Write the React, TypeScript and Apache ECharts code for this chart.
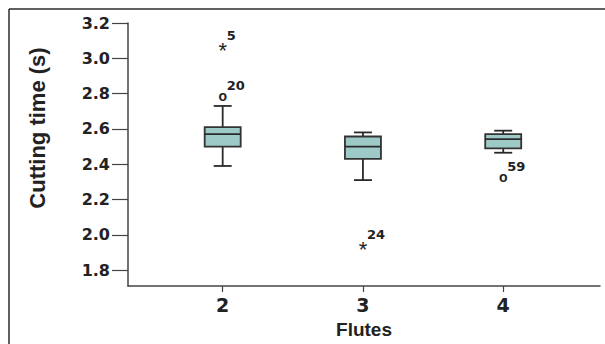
import React, { useEffect, useRef } from "react";
import * as echarts from "echarts";

const categories = [2, 3, 4];
const whiskerLow = [2.39, 2.31, 2.465];
const q1 = [2.5, 2.43, 2.49];
const median = [2.57, 2.5, 2.542];
const q3 = [2.61, 2.557, 2.57];
const whiskerHigh = [2.73, 2.58, 2.59];

const outlierFlutes = [2, 2, 3, 4];
const outlierValues = [3.07, 2.785, 1.945, 2.33];
const outlierMarks = ["*", "o", "*", "o"];
const outlierIds = ["5", "20", "24", "59"];

const yTicks = [1.8, 2.0, 2.2, 2.4, 2.6, 2.8, 3.0, 3.2];

const FONT = "Liberation Sans";
const FONT2 = "DejaVu Sans";
const DARK = "#2b2b2b";

export default function App() {
  const ref = useRef<HTMLDivElement>(null);
  useEffect(() => {
    if (!ref.current) return;
    const chart = echarts.init(ref.current, null, { renderer: "svg" });
    const boxData = categories.map((c, i) => [c, whiskerLow[i], q1[i], median[i], q3[i], whiskerHigh[i]]);
    const outData = outlierFlutes.map((f, i) => [f, outlierValues[i], i]);
    chart.setOption({
      animation: false,
      backgroundColor: "#ffffff",
      graphic: [
        { type: "line", shape: { x1: 9, y1: 9, x2: 605, y2: 9 }, style: { stroke: DARK, lineWidth: 1.5 } },
        { type: "line", shape: { x1: 9, y1: 9, x2: 9, y2: 344 }, style: { stroke: DARK, lineWidth: 1.5 } },
        {
          type: "text",
          x: 37,
          y: 128,
          rotation: Math.PI / 2,
          style: {
            text: "Cutting time (s)",
            fontFamily: FONT,
            fontWeight: "bold",
            fontSize: 22,
            fill: "#222",
            align: "center",
            verticalAlign: "middle",
          },
        },
      ],
      grid: { left: 128, top: 23, right: 5, bottom: 56 },
      xAxis: {
        type: "value",
        min: 1.325,
        max: 4.69,
        name: "Flutes",
        nameLocation: "middle",
        nameGap: 34,
        nameTextStyle: { fontFamily: FONT, fontWeight: "bold", fontSize: 19, color: "#222" },
        splitLine: { show: false },
        axisLine: { lineStyle: { color: "#444", width: 1.5 } },
        axisTick: { length: 6, customValues: categories, lineStyle: { color: "#444", width: 1.2 } },
        axisLabel: {
          customValues: categories,
          fontFamily: FONT2,
          fontWeight: "bold",
          fontSize: 19,
          color: "#222",
          margin: 9,
          formatter: (v: number) => String(v),
        },
      },
      yAxis: {
        type: "value",
        min: 1.71,
        max: 3.2,
        splitLine: { show: false },
        axisLine: { show: true, lineStyle: { color: "#444", width: 1.5 } },
        axisTick: { show: true, length: 16, customValues: yTicks, lineStyle: { color: "#444", width: 1.2 } },
        axisLabel: {
          customValues: yTicks,
          fontFamily: FONT2,
          fontWeight: "bold",
          fontSize: 16,
          color: "#222",
          margin: 18,
          formatter: (v: number) => v.toFixed(1),
        },
      },
      series: [
        {
          type: "custom",
          data: boxData,
          encode: { x: 0, y: [1, 2, 3, 4, 5] },
          renderItem: (params: any, api: any) => {
            const x = api.value(0);
            const pLow = api.coord([x, api.value(1)]);
            const pQ1 = api.coord([x, api.value(2)]);
            const pMed = api.coord([x, api.value(3)]);
            const pQ3 = api.coord([x, api.value(4)]);
            const pHigh = api.coord([x, api.value(5)]);
            const cx = pLow[0];
            const w = 36;
            const cap = 18;
            const ls = { stroke: "#2a2a2a", lineWidth: 1.8 };
            return {
              type: "group",
              children: [
                { type: "line", shape: { x1: cx, y1: pLow[1], x2: cx, y2: pQ1[1] }, style: ls },
                { type: "line", shape: { x1: cx, y1: pQ3[1], x2: cx, y2: pHigh[1] }, style: ls },
                { type: "line", shape: { x1: cx - cap / 2, y1: pLow[1], x2: cx + cap / 2, y2: pLow[1] }, style: ls },
                { type: "line", shape: { x1: cx - cap / 2, y1: pHigh[1], x2: cx + cap / 2, y2: pHigh[1] }, style: ls },
                {
                  type: "rect",
                  shape: { x: cx - w / 2, y: pQ3[1], width: w, height: pQ1[1] - pQ3[1] },
                  style: { fill: "#9dc9c6", stroke: "#333", lineWidth: 1.8 },
                },
                { type: "line", shape: { x1: cx - w / 2, y1: pMed[1], x2: cx + w / 2, y2: pMed[1] }, style: ls },
              ],
            };
          },
        },
        {
          type: "custom",
          data: outData,
          encode: { x: 0, y: 1 },
          renderItem: (params: any, api: any) => {
            const i = api.value(2);
            const p = api.coord([api.value(0), api.value(1)]);
            const mark = outlierMarks[i];
            const isStar = mark === "*";
            return {
              type: "group",
              children: [
                {
                  type: "text",
                  x: p[0],
                  y: isStar ? p[1] + 5 : p[1],
                  style: {
                    text: mark,
                    fontFamily: FONT,
                    fontWeight: isStar ? "normal" : "bold",
                    fontSize: isStar ? 22 : 14,
                    fill: "#222",
                    align: "center",
                    verticalAlign: "middle",
                  },
                },
                {
                  type: "text",
                  x: p[0] + 4,
                  y: p[1] - 4,
                  style: {
                    text: outlierIds[i],
                    fontFamily: FONT2,
                    fontWeight: "bold",
                    fontSize: 13,
                    fill: "#222",
                    align: "left",
                    verticalAlign: "bottom",
                  },
                },
              ],
            };
          },
        },
      ],
    });
    return () => chart.dispose();
  }, []);
  return <div ref={ref} style={{ width: 605, height: 344, position: "absolute", left: 0, top: 0 }} />;
}
